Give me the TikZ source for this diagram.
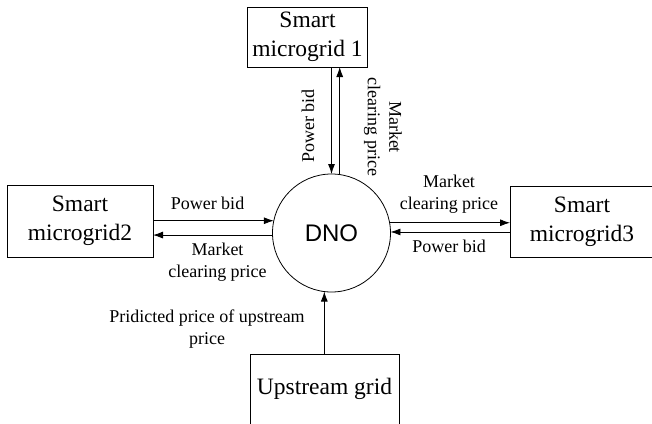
\documentclass[tikz,border=0pt]{standalone}
\usepackage{fontspec}
\setmainfont{Liberation Serif}
\newfontfamily\dnofont{Liberation Sans}
\usetikzlibrary{arrows.meta}

\begin{document}
\begin{tikzpicture}[x=1pt,y=-1pt,
  agent/.style={draw,line width=0.8pt,inner sep=0pt,outer sep=0pt,align=center,
    font=\fontsize{23.5}{29}\selectfont},
  hub/.style={draw,circle,line width=0.8pt,inner sep=0pt,outer sep=0pt,
    minimum size=118pt,font=\dnofont\fontsize{24}{28}\selectfont},
  flow/.style={line width=0.8pt,-{Latex[length=10pt,width=7pt]}},
  lbl/.style={align=center,inner sep=0pt,font=\fontsize{18}{21.5}\selectfont}]
  \useasboundingbox (0,0) rectangle (652,423);
  \clip (0,0) rectangle (652,423);

  % market participants and the operator
  \node[hub] (dno) at (331.5,233) {DNO};
  \node[agent,minimum width=120pt,minimum height=60pt] (sm1) at (307.5,37) {Smart\\microgrid 1};
  \node[agent,minimum width=146pt,minimum height=72pt] (sm2) at (80,221) {Smart\\microgrid2};
  \node[agent,minimum width=144pt,minimum height=71pt] (sm3) at (582,221.5) {Smart\\microgrid3};
  \node[agent,minimum width=149pt,minimum height=70pt] (up) at (324.5,389) {Upstream grid};

  % microgrid 1 <-> DNO
  \draw[flow] (sm1.south -| dno.90.8) -- (dno.90.8);
  \draw[flow] (dno.82.7) -- (sm1.south -| dno.82.7);
  \node[lbl,rotate=90] (l1a) at (308,126) {Power bid};
  \node[lbl,rotate=-90] (l1b) at (383,127) {Market\\clearing price};

  % microgrid 2 <-> DNO
  \draw[flow] (sm2.east |- dno.168.3) -- (dno.168.3);
  \draw[flow] (dno.182.9) -- (sm2.east |- dno.182.9);
  \node[lbl] (l2a) at (207.5,203) {Power bid};
  \node[lbl] (l2b) at (217.5,262) {Market\\clearing price};

  % microgrid 3 <-> DNO
  \draw[flow] (dno.10.7) -- (sm3.west |- dno.10.7);
  \draw[flow] (sm3.west |- dno.1) -- (dno.1);
  \node[lbl] (l3a) at (449,194) {Market\\clearing price};
  \node[lbl] (l3b) at (449,246) {Power bid};

  % upstream grid -> DNO
  \draw[flow] (up.north -| dno.263.7) -- (dno.263.7);
  \node[lbl] (l4) at (207,329) {Pridicted price of upstream\\price};
\end{tikzpicture}
\end{document}
